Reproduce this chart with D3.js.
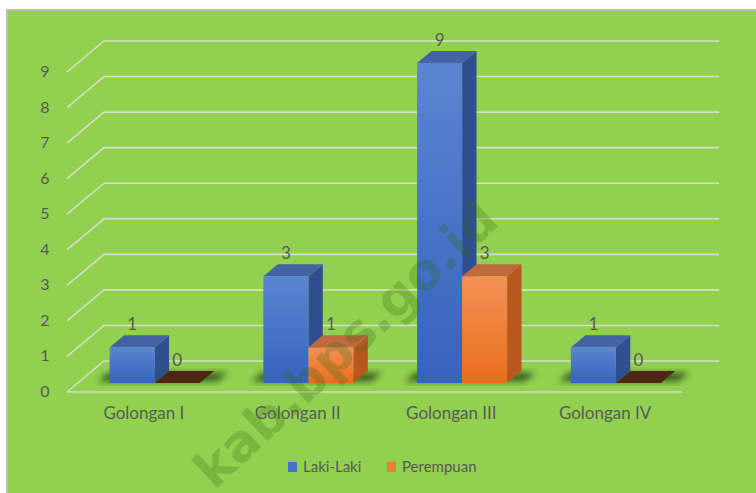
<!DOCTYPE html>
<html>
<head>
<meta charset="utf-8">
<script src="https://cdnjs.cloudflare.com/ajax/libs/d3/7.8.5/d3.min.js"></script>
<style>
body{margin:0;background:#fff;}
text{font-family:Lato,"Open Sans",sans-serif;fill:#595959;}
</style>
</head>
<body>
<svg width="756" height="493"></svg>
<script>
//chart data
var categories=["Golongan I","Golongan II","Golongan III","Golongan IV"];
var seriesNames=["Laki-Laki","Perempuan"];
var lakiValues=[1,3,9,1];
var perempuanValues=[0,1,3,0];
var yTicks=[0,1,2,3,4,5,6,7,8,9];

//3d look
var depthX=37, depthY=-31;
var barDepthFront=0.29, barDepthBack=0.68;
var colors={
    "Laki-Laki":{top:"#4463A4",side:"#2F4F90",front0:"#5C85D1",front1:"#3563BE",legend:"#4472C4",zero:"#2F4F90"},
    "Perempuan":{top:"#BF6A3C",side:"#B9581D",front0:"#F39156",front1:"#EA6E1C",legend:"#ED7D31",zero:"#4E2616"}
};

var svg=d3.select("svg");

//background panel
svg.append("rect").attr("x",6).attr("y",9).attr("width",750).attr("height",484).attr("fill","#BDBDBD");
svg.append("rect").attr("x",8).attr("y",11).attr("width",748).attr("height",482).attr("fill","#92D050");

var defs=svg.append("defs");
seriesNames.forEach(function(s,i){
    var g=defs.append("linearGradient").attr("id","grad"+i).attr("x1",0).attr("y1",0).attr("x2",0).attr("y2",1);
    g.append("stop").attr("offset","0%").attr("stop-color",colors[s].front0);
    g.append("stop").attr("offset","100%").attr("stop-color",colors[s].front1);
});
defs.append("filter").attr("id","blur").attr("x","-50%").attr("y","-50%").attr("width","200%").attr("height","200%")
    .append("feGaussianBlur").attr("stdDeviation",3);

var x=d3.scaleBand().domain(categories).range([67,682]);
var xInner=d3.scaleBand().domain(seriesNames).range([0,90]);
var y=d3.scaleLinear().domain([0,9]).range([392,72]);

function pt(px,v,d){ return [px+d*depthX, y(v)+d*depthY]; }
function poly(points){ return "M"+points.map(function(p){return p.join(",");}).join("L")+"Z"; }

//gridlines
svg.append("g").selectAll("path.grid")
    .data(yTicks)
    .enter()
    .append("path")
    .attr("class","grid")
    .attr("d",function(d){ return "M67,"+y(d)+"L"+(67+depthX)+","+(y(d)+depthY)+"L"+(682+depthX)+","+(y(d)+depthY); })
    .attr("fill","none")
    .attr("stroke","#D6DDC8")
    .attr("stroke-width",1.6);
svg.append("path")
    .attr("d","M67,"+y(0)+"L682,"+y(0))
    .attr("stroke","#D6DDC8").attr("stroke-width",1.6);

//y labels
svg.append("g").selectAll("text")
    .data(yTicks)
    .enter()
    .append("text")
    .attr("x",45)
    .attr("y",function(d){return y(d)+5;})
    .attr("text-anchor","middle")
    .style("font-size","16px")
    .text(function(d){return d;});

//build bar list
var bars=[];
categories.forEach(function(c,i){
    bars.push({cat:c,series:"Laki-Laki",value:lakiValues[i]});
    bars.push({cat:c,series:"Perempuan",value:perempuanValues[i]});
});
function barX(d){ return x(d.cat)+(x.bandwidth()-90)/2+xInner(d.series); }

//shadows
svg.append("g").selectAll("path")
    .data(categories)
    .enter()
    .append("path")
    .attr("d",function(c){
        var x0=x(c)+(x.bandwidth()-90)/2-14, x1=x0+90+30;
        return poly([pt(x0,0,barDepthFront+0.05),pt(x1,0,barDepthFront+0.05),pt(x1,0,barDepthBack-0.05),pt(x0,0,barDepthBack-0.05)]);
    })
    .attr("fill","#1E3A10")
    .attr("opacity",0.75)
    .attr("filter","url(#blur)");

//bars
var gBars=svg.append("g").selectAll("g.bar")
    .data(bars)
    .enter()
    .append("g")
    .attr("class","bar");

gBars.each(function(d){
    var g=d3.select(this);
    var x0=barX(d), x1=x0+xInner.bandwidth();
    var c=colors[d.series];
    if(d.value==0){
        g.append("path")
            .attr("d",poly([pt(x0,0,barDepthFront),pt(x1,0,barDepthFront),pt(x1,0,barDepthBack),pt(x0,0,barDepthBack)]))
            .attr("fill",c.zero);
        return;
    }
    //side
    g.append("path")
        .attr("d",poly([pt(x1,0,barDepthFront),pt(x1,0,barDepthBack),pt(x1,d.value,barDepthBack),pt(x1,d.value,barDepthFront)]))
        .attr("fill",c.side);
    //top
    g.append("path")
        .attr("d",poly([pt(x0,d.value,barDepthFront),pt(x1,d.value,barDepthFront),pt(x1,d.value,barDepthBack),pt(x0,d.value,barDepthBack)]))
        .attr("fill",c.top);
    //front
    g.append("path")
        .attr("d",poly([pt(x0,0,barDepthFront),pt(x1,0,barDepthFront),pt(x1,d.value,barDepthFront),pt(x0,d.value,barDepthFront)]))
        .attr("fill","url(#grad"+seriesNames.indexOf(d.series)+")");
});

//value labels
svg.append("g").selectAll("text")
    .data(bars)
    .enter()
    .append("text")
    .attr("x",function(d){return pt(barX(d)+xInner.bandwidth()/2,d.value,barDepthFront)[0];})
    .attr("y",function(d){return pt(0,d.value,barDepthFront)[1]-17;})
    .attr("text-anchor","middle")
    .style("font-size","17px")
    .text(function(d){return d.value;});

//category labels
svg.append("g").selectAll("text")
    .data(categories)
    .enter()
    .append("text")
    .attr("x",function(d){return x(d)+x.bandwidth()/2;})
    .attr("y",419)
    .attr("text-anchor","middle")
    .style("font-size","17px")
    .text(function(d){return d;});

//legend
var legendX=[288,387];
var gLegend=svg.append("g").selectAll("g")
    .data(seriesNames)
    .enter()
    .append("g")
    .attr("transform",function(d,i){return "translate("+legendX[i]+",462)";});
gLegend.append("rect").attr("width",9).attr("height",10).attr("fill",function(d){return colors[d].legend;});
gLegend.append("text").attr("x",15).attr("y",10).style("font-size","15px").text(function(d){return d;});

//watermark (cut at the bottom edge, as in the source)
svg.append("text")
    .attr("transform","translate(348,347) rotate(-43)")
    .attr("text-anchor","middle")
    .attr("dominant-baseline","middle")
    .style("font-family","'DejaVu Sans'")
    .style("font-size","51px")
    .style("font-weight","bold")
    .style("fill","#2E6B12")
    .style("opacity",0.25)
    .text("kab.bps.go.id");
</script>
</body>
</html>
